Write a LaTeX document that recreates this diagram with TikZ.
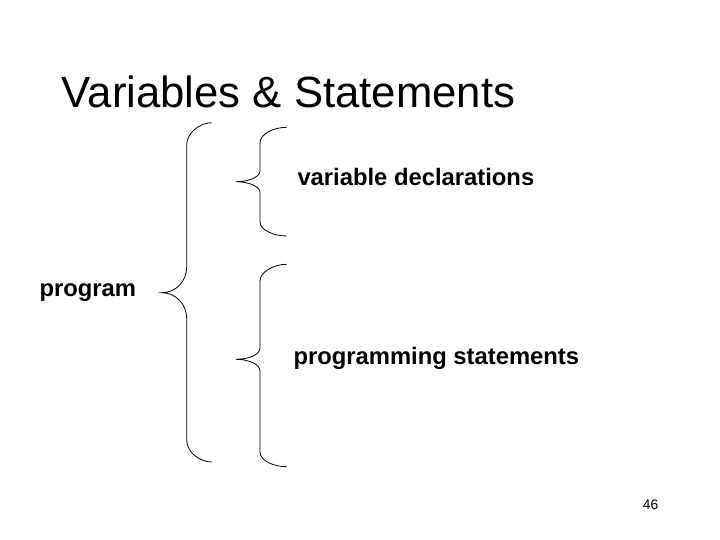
\documentclass[tikz,border=0pt]{standalone}
\usepackage{fontspec}
\setmainfont{Liberation Sans}
\usepackage{tikz}
\usetikzlibrary{positioning}
\definecolor{ink}{HTML}{000000}
\tikzset{
  title/.style={font=\fontsize{43.7}{50}\selectfont,text=ink,inner sep=0pt,anchor=base west},
  item/.style={font=\fontsize{23.8}{28}\selectfont\bfseries,text=ink,inner sep=0pt,anchor=base west},
  pagenum/.style={font=\fontsize{13.8}{16}\selectfont,text=ink,inner sep=0pt,anchor=base west},
  brace/.style={draw=ink,line width=0.8pt},
}
\begin{document}
\begin{tikzpicture}[x=1pt,y=-1pt]
    \useasboundingbox (0,0) rectangle (720,540);

    \node[title] (head) at (61.7,107.7) {Variables \& Statements};

    \node[item] (prog) at (39.3,296.7) {program};
    \node[item] (decl) at (297.3,186) {variable declarations};
    \node[item] (stmt) at (293.3,364) {programming statements};

    \node[pagenum] (num) at (642.7,509) {46};

    % big brace round the whole program
    \draw[brace] (211.7,122.7) .. controls (199.6,122.7) and (186.7,133) .. (186.7,145)
      -- (186.7,267) .. controls (186.7,281) and (176,292.7) .. (161.7,292.7)
      .. controls (176,292.7) and (186.7,304.5) .. (186.7,318.5)
      -- (186.7,440) .. controls (186.7,452) and (199.6,462) .. (211.7,462);

    % brace for the declarations
    \draw[brace] (286.7,127.3) .. controls (273.5,127.3) and (260,134) .. (260,143)
      -- (260,171) .. controls (260,177) and (249,181.7) .. (236,181.7)
      .. controls (249,181.7) and (260,186.5) .. (260,192.5)
      -- (260,222) .. controls (260,230) and (273.5,236) .. (286.7,236);

    % brace for the statements
    \draw[brace] (286.7,264.3) .. controls (273.5,264.3) and (260,272) .. (260,281)
      -- (260,348) .. controls (260,354.5) and (249,359.3) .. (236,359.3)
      .. controls (249,359.3) and (260,364.5) .. (260,371)
      -- (260,452) .. controls (260,460.5) and (273.5,466.7) .. (286.7,466.7);
  \end{tikzpicture}
\end{document}
